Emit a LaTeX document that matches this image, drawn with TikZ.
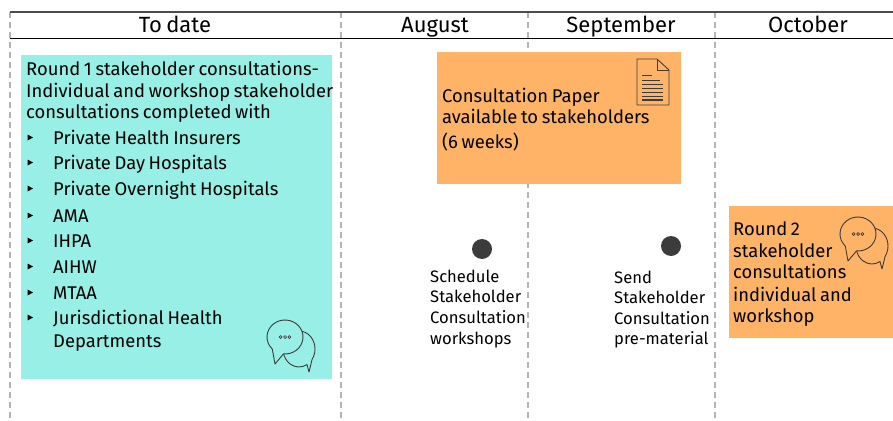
\documentclass[tikz,border=0pt]{standalone}
\usepackage{fontspec}
\setmainfont{Fira Sans}[WordSpace=0.75]
\usetikzlibrary{calc}
\definecolor{cyanbox}{HTML}{97EFE6}
\definecolor{orangebox}{HTML}{FFB366}
\definecolor{dashgrey}{HTML}{B4B4B4}
\definecolor{icongrey}{HTML}{3C3C3C}
\begin{document}
\begin{tikzpicture}[x=1pt,y=-1pt,
  hdr/.style={font=\fontsize{22}{24}\selectfont, anchor=base, inner sep=0pt},
  body/.style={font=\fontsize{18.4}{22}\selectfont, anchor=base west, inner sep=0pt},
  small/.style={font=\fontsize{16.6}{19}\selectfont, anchor=base west, inner sep=0pt},
  col/.style={draw=dashgrey, line width=1.4pt, dash pattern=on 6pt off 4pt},
  cyanfill/.style={fill=cyanbox, draw=none},
  orangefill/.style={fill=orangebox, draw=none},
  dot/.style={circle, fill=icongrey, minimum size=20pt, inner sep=0pt},
  bulletmark/.style={fill=black},
  iconline/.style={draw=icongrey, line width=0.9pt, line join=round},
  pics/chat/.style={code={
    \begin{scope}[yscale=-1]
    % back bubble
    \filldraw[iconline, fill=#1]
      (14,-12) ++(300:16 and 18) -- (24,-35) -- ($(14,-12)+(325:16 and 18)$)
      arc[start angle=325, end angle=300+360, x radius=16, y radius=18] -- cycle;
    % front bubble
    \filldraw[iconline, fill=#1]
      (225:18 and 17) -- (-10,-27) -- (265:18 and 17)
      arc[start angle=265, end angle=225+360, x radius=18, y radius=17] -- cycle;
    \foreach \d in {-4.3,0,4.3} \draw[iconline, line width=0.7pt] (\d,0) circle[radius=1.5];
    \end{scope}
  }},
  pics/docicon/.style={code={
    \draw[iconline] (0,0) -- (20,0) -- (32,11) -- (32,46) -- (0,46) -- cycle;
    \draw[iconline] (20,0) -- (20,11) -- (32,11);
    \draw[iconline] (5,16) -- (15,16);
    \draw[iconline] (5,21) -- (23,21);
    \foreach \yy in {25,29,33,37} \draw[iconline] (5,\yy) -- (26,\yy);
    \draw[iconline, line width=1.3pt] (5,41) -- (26,41);
  }}
]
\useasboundingbox (0,0) rectangle (893,420);

% header
\draw[col] (10,12) -- (10,420);
\draw[col] (341,12) -- (341,420);
\draw[col] (528,12) -- (528,420);
\draw[col] (715,12) -- (715,420);
\draw[draw=black!70, line width=1.5pt] (10,12) -- (893,12);
\draw[draw=black, line width=1.8pt] (10,38.5) -- (893,38.5);
\node[hdr] (h1) at (175,32.5) {To date};
\node[hdr] (h2) at (435,32.5) {August};
\node[hdr] (h3) at (621,32.5) {September};
\node[hdr] (h4) at (808,32.5) {October};

% cyan box
\fill[cyanfill] (21,55) rectangle (332,379);
\node[body] (c1) at (26,75) {Round 1 stakeholder consultations-};
\node[body] (c2) at (26,97) {Individual and workshop stakeholder};
\node[body] (c3) at (26,118) {consultations completed with};
\foreach \yy/\t [count=\i] in {144/Private Health Insurers,169/Private Day Hospitals,195/Private Overnight Hospitals,222/AMA,247/IHPA,273/AIHW,299/MTAA,324/Jurisdictional Health}{
  \node[body] (b\i) at (53,\yy) {\t};
  \fill[bulletmark] (27.5,\yy-9.5) -- (33,\yy-6.5) -- (27.5,\yy-3.5) -- cycle;
}
\node[body] (b9) at (53,347) {Departments};
\pic (chat1) at (285,337) {chat=cyanbox};

% orange box 1
\fill[orangefill] (437,52) rectangle (681,184);
\node[body] (o1) at (442,102) {Consultation Paper};
\node[body] (o2) at (442,123) {available to stakeholders};
\node[body] (o3) at (442,148) {(6 weeks)};
\pic (doc) at (637,59) {docicon};

% milestones
\node[dot] (d1) at (482,249) {};
\node[dot] (d2) at (671,246) {};
\node[small] (s1) at (430,282) {Schedule};
\node[small] (s2) at (430,302) {Stakeholder};
\node[small] (s3) at (430,323) {Consultation};
\node[small] (s4) at (430,344) {workshops};
\node[small] (t1) at (614,283) {Send};
\node[small] (t2) at (614,303) {Stakeholder};
\node[small] (t3) at (614,324) {Consultation};
\node[small] (t4) at (614,344) {pre-material};

% orange box 2
\fill[orangefill] (729,206) rectangle (893,338);
\node[body] (r1) at (733,235) {Round 2};
\node[body] (r2) at (733,257) {stakeholder};
\node[body] (r3) at (733,278) {consultations};
\node[body] (r4) at (733,301) {individual and};
\node[body] (r5) at (733,322) {workshop};
\pic (chat2) at (858,234) {chat=orangebox};
\end{tikzpicture}
\end{document}
